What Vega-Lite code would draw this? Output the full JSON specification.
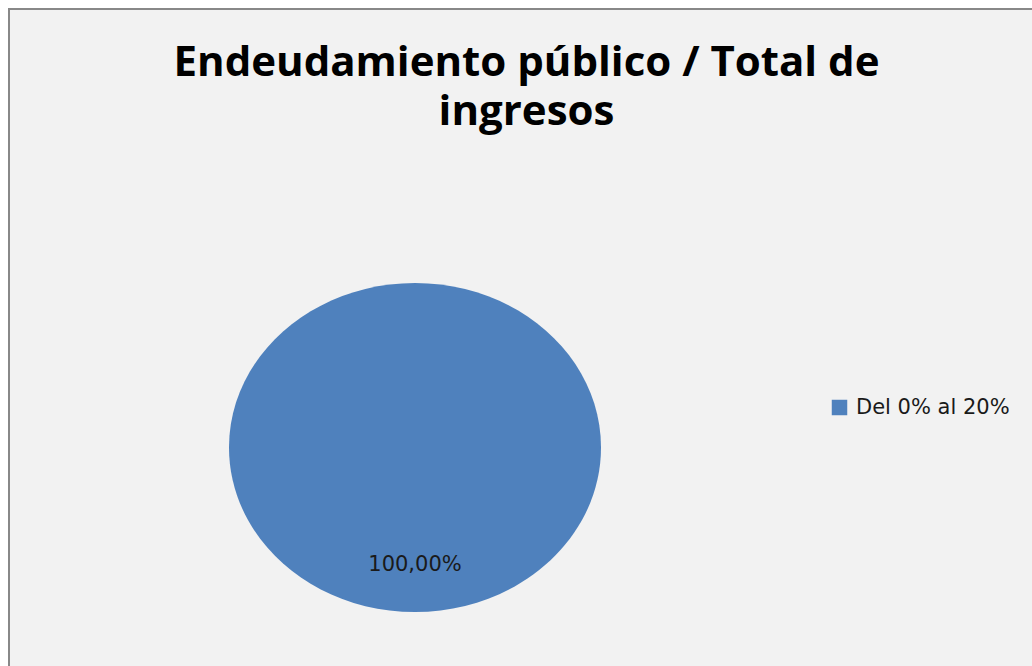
{
  "$schema": "https://vega.github.io/schema/vega-lite/v6.json",
  "width": 1032,
  "height": 666,
  "autosize": {"type": "fit", "contains": "padding"},
  "padding": {"left": 9, "top": 9, "right": -4, "bottom": -4},
  "background": "#ffffff",
  "view": {"fill": "#f2f2f2", "stroke": "#888888", "strokeWidth": 2},
  "config": {
    "locale": {"number": {"decimal": ",", "thousands": ".", "grouping": [3], "currency": ["", " €"]}}
  },
  "title": {
    "text": ["Endeudamiento público / Total de", "ingresos"],
    "font": "Open Sans",
    "fontSize": 42,
    "fontWeight": "bold",
    "color": "#000000",
    "anchor": "middle",
    "offset": -125,
    "lineHeight": 49,
    "dx": 4
  },
  "data": {"values": [{"categoria": "Del 0% al 20%", "proporcion": 1}]},
  "layer": [
    {
      "mark": {
        "type": "point",
        "shape": "M -1 0 A 1 0.8844 0 1 1 1 0 A 1 0.8844 0 1 1 -1 0 Z",
        "filled": true,
        "opacity": 1,
        "size": 138384,
        "strokeWidth": 0,
        "xOffset": -107.5,
        "yOffset": 108
      },
      "encoding": {
        "color": {
          "field": "categoria",
          "type": "nominal",
          "scale": {"range": ["#4f81bd"]},
          "legend": {
            "orient": "none",
            "legendX": 820,
            "legendY": 388,
            "title": null,
            "symbolType": "square",
            "symbolSize": 240,
            "symbolStrokeWidth": 0,
            "labelFont": "DejaVu Sans",
            "labelFontSize": 21,
            "labelColor": "#1a1a1a",
            "labelOffset": 6
          }
        }
      }
    },
    {
      "mark": {
        "type": "text",
        "font": "DejaVu Sans",
        "fontSize": 21,
        "color": "#1a1a1a",
        "align": "center",
        "baseline": "middle",
        "xOffset": -107.5,
        "yOffset": 225
      },
      "encoding": {
        "text": {"field": "proporcion", "type": "quantitative", "format": ".2%"}
      }
    }
  ]
}
